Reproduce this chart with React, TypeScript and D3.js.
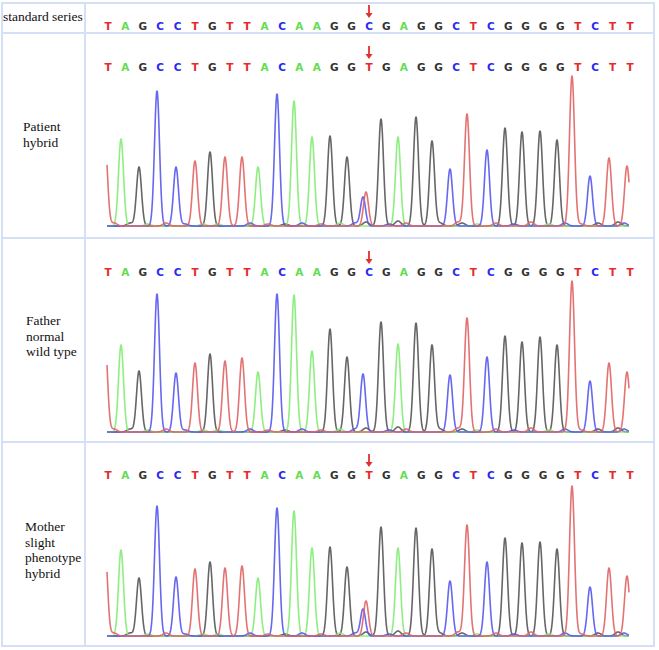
import React from "react";
import * as d3 from "d3";

// reference sequence and the calls for each sample
const standardSeq = "TAGCCTGTTACAAGGCGAGGCTCGGGGTCTT".split("");
const patientSeq = "TAGCCTGTTACAAGGTGAGGCTCGGGGTCTT".split("");
const fatherSeq = "TAGCCTGTTACAAGGCGAGGCTCGGGGTCTT".split("");
const motherSeq = "TAGCCTGTTACAAGGTGAGGCTCGGGGTCTT".split("");
const mutationIndex = 15;

// peak centres (scan units), one per base of the reference
const peakScan = [5, 21, 39, 57, 76, 95, 110, 125, 142, 158, 177, 194, 212, 230, 247, 263, 281, 298, 316, 332, 350, 367, 387, 405, 422, 440, 457, 472, 490, 509, 527];

// peak heights (signal) of the reference base channel
const patientHeights = [84, 87, 59, 135, 59, 65, 74, 69, 69, 59, 132, 125, 89, 90, 69, 29, 107, 89, 109, 85, 57, 112, 76, 98, 94, 95, 86, 150, 50, 68, 60];
const fatherHeights = [92, 87, 61, 138, 59, 69, 78, 71, 74, 60, 138, 137, 81, 103, 75, 58, 110, 88, 109, 87, 57, 114, 75, 96, 90, 95, 87, 151, 51, 69, 60];
const motherHeights = [88, 86, 58, 130, 59, 67, 74, 68, 70, 58, 128, 125, 88, 89, 69, 27, 109, 88, 108, 87, 55, 111, 74, 98, 93, 94, 87, 150, 49, 68, 60];

// second peak at the heterozygous site
const patientExtra = [{ base: "T", scan: 266, h: 34 }];
const fatherExtra: { base: string; scan: number; h: number }[] = [];
const motherExtra = [{ base: "T", scan: 266, h: 35 }];

// small background bumps [scan, base, height]
const noiseBumps: [number, string, number][] = [
  [14, "T", 3], [30, "G", 3], [48, "A", 2], [66, "T", 3], [85, "C", 2], [103, "A", 2],
  [118, "A", 2], [150, "C", 3], [168, "T", 2], [185, "G", 2], [202, "C", 3], [221, "T", 2],
  [240, "A", 3], [255, "C", 3], [266, "G", 4], [289, "C", 2], [298, "G", 5], [306, "T", 3],
  [340, "G", 3], [358, "T", 4], [362, "G", 3], [377, "A", 2], [396, "T", 3], [414, "C", 2],
  [431, "T", 4], [449, "A", 2], [465, "C", 3], [481, "T", 2], [498, "G", 3], [518, "G", 4], [524, "C", 3],
];

const panelLabels = [["Patient", "hybrid"], ["Father", "normal", "wild type"], ["Mother", "slight", "phenotype", "hybrid"]];

const letterColor: Record<string, string> = { T: "#e52a2a", A: "#63dc52", G: "#333333", C: "#2a2aee" };
const traceColor: Record<string, string> = { T: "#e06464", A: "#82ec74", G: "#555555", C: "#5656ee" };
const channelOrder = ["G", "A", "C", "T"];

const W = 659;
const H = 650;
const gridColor = "#d5e0f6";

const xBase = d3.scaleLinear().domain([0, 30]).range([108, 630]);
const xScan = d3.scaleLinear().domain([0, 530]).range([100, 630]);

function Letters({ seq, y }: { seq: string[]; y: number }) {
  const ax = xBase(mutationIndex);
  return (
    <g>
      {seq.map((b, i) => (
        <text key={i} x={xBase(i)} y={y} textAnchor="middle" fill={letterColor[b]}
          fontFamily="'DejaVu Sans', sans-serif" fontWeight={700} fontSize={10.5}>{b}</text>
      ))}
      <line x1={ax} x2={ax} y1={y - 25} y2={y - 16} stroke="#e03030" strokeWidth={1.8} />
      <path d={`M${ax - 3.5},${y - 17} L${ax + 3.5},${y - 17} L${ax},${y - 12} Z`} fill="#e03030" />
    </g>
  );
}

function Traces({ heights, extra, baseline }: { heights: number[]; extra: { base: string; scan: number; h: number }[]; baseline: number }) {
  const y = d3.scaleLinear().domain([0, 160]).range([baseline, baseline - 160]);
  const peaks = standardSeq.map((b, i) => ({ base: b, scan: peakScan[i], h: heights[i], s: 2.5 }))
    .concat(extra.map(e => ({ ...e, s: 2.5 })))
    .concat(noiseBumps.map(([scan, base, h]) => ({ base, scan, h, s: 3 })));
  const samples = d3.range(7, 529.01, 0.25);
  const line = d3.line<[number, number]>().x(d => xScan(d[0])).y(d => y(d[1]));
  return (
    <g>
      {channelOrder.map(ch => {
        const ps = peaks.filter(p => p.base === ch);
        const pts: [number, number][] = samples.map(s => [
          s,
          d3.sum(ps, p => p.h * Math.exp(-((s - p.scan) ** 2) / (2 * p.s * p.s))),
        ]);
        return <path key={ch} d={line(pts) || ""} fill="none" stroke={traceColor[ch]} strokeWidth={1.6} strokeLinejoin="round" opacity={0.9} />;
      })}
    </g>
  );
}

function Label({ lines, x, y }: { lines: string[]; x: number; y: number }) {
  return (
    <text x={x} y={y} fill="#111" fontFamily="'Liberation Serif', 'Times New Roman', serif" fontSize={13.5}>
      {lines.map((l, i) => (
        <tspan key={i} x={x} dy={i === 0 ? 0 : 15.5}>{l}</tspan>
      ))}
    </text>
  );
}

export default function App() {
  const panels = [
    { seq: patientSeq, heights: patientHeights, extra: patientExtra, base: 226, letterY: 71, labelX: 23, labelY: 131 },
    { seq: fatherSeq, heights: fatherHeights, extra: fatherExtra, base: 432, letterY: 276, labelX: 26, labelY: 325 },
    { seq: motherSeq, heights: motherHeights, extra: motherExtra, base: 636, letterY: 479, labelX: 25, labelY: 531 },
  ];
  return (
    <svg width={W} height={H} style={{ position: "absolute", left: 0, top: 0, background: "#fff" }}>
      <rect x={2} y={3} width={652} height={643} fill="none" stroke={gridColor} strokeWidth={2} />
      <line x1={85} x2={85} y1={3} y2={646} stroke={gridColor} strokeWidth={2} />
      {[33, 238, 442].map(v => (
        <line key={v} x1={2} x2={654} y1={v} y2={v} stroke={gridColor} strokeWidth={2} />
      ))}
      <Label lines={["standard series"]} x={3} y={21} />
      <Letters seq={standardSeq} y={30} />
      {panels.map((p, i) => (
        <g key={i}>
          <Label lines={panelLabels[i]} x={p.labelX} y={p.labelY} />
          <Letters seq={p.seq} y={p.letterY} />
          <Traces heights={p.heights} extra={p.extra} baseline={p.base} />
        </g>
      ))}
    </svg>
  );
}
